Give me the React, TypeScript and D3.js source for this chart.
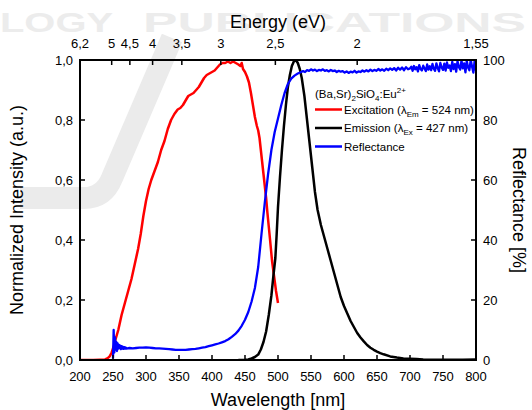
import React from "react";
import * as d3 from "d3";

const W = 532;
const H = 410;

// axis ticks
const wavelengthTicks = [200, 250, 300, 350, 400, 450, 500, 550, 600, 650, 700, 750, 800];
const intensityTicks = [0, 0.2, 0.4, 0.6, 0.8, 1.0];
const reflectanceTicks = [0, 20, 40, 60, 80, 100];
const energyTicks = [6.2, 5, 4.5, 4, 3.5, 3, 2.5, 2, 1.55];
const energyLabels = ["6,2", "5", "4,5", "4", "3,5", "3", "2,5", "2", "1,55"];

// Excitation (lambda_Em = 524 nm): [wavelength nm, normalized intensity]
const excitation: [number, number][] = [
  [200, 0], [210, 0], [220, 0], [230, 0.001], [238, 0.002], [242, 0.006], [245, 0.012], [248, 0.025],
  [251, 0.045], [254, 0.07], [258, 0.1], [263, 0.15], [268, 0.19], [273, 0.23], [278, 0.27],
  [283, 0.32], [288, 0.37], [292, 0.42], [296, 0.48], [300, 0.53], [304, 0.57], [308, 0.6],
  [313, 0.63], [318, 0.66], [323, 0.7], [328, 0.73], [333, 0.77], [338, 0.8], [343, 0.82],
  [348, 0.835], [352, 0.84], [356, 0.85], [360, 0.865], [364, 0.88], [368, 0.885], [372, 0.89],
  [376, 0.9], [380, 0.91], [384, 0.925], [388, 0.94], [392, 0.95], [396, 0.955], [400, 0.96],
  [404, 0.965], [408, 0.975], [412, 0.985], [416, 0.99], [420, 0.99], [424, 0.995], [428, 0.99],
  [432, 0.995], [436, 0.99], [440, 0.985], [443, 0.98], [445, 0.99], [447, 0.97], [450, 0.96],
  [453, 0.945], [456, 0.925], [459, 0.89], [462, 0.85], [465, 0.81], [468, 0.78], [470, 0.765],
  [472, 0.74], [474, 0.7], [476, 0.66], [478, 0.62], [480, 0.58], [482, 0.54], [484, 0.49],
  [486, 0.445], [488, 0.4], [491, 0.33], [494, 0.28], [497, 0.23], [500, 0.19],
];

// Emission (lambda_Ex = 427 nm)
const emission: [number, number][] = [
  [440, 0], [450, 0.001], [455, 0.002], [460, 0.005], [465, 0.01], [470, 0.018], [474, 0.035],
  [478, 0.06], [482, 0.095], [486, 0.15], [490, 0.215], [493, 0.28], [496, 0.34], [498, 0.42],
  [500, 0.51], [503, 0.61], [506, 0.7], [509, 0.78], [512, 0.85], [515, 0.91], [518, 0.95],
  [521, 0.98], [524, 0.995], [527, 1.0], [530, 0.99], [533, 0.97], [536, 0.94], [540, 0.88],
  [544, 0.8], [548, 0.72], [552, 0.64], [556, 0.56], [560, 0.5], [565, 0.45], [570, 0.41],
  [575, 0.37], [580, 0.33], [585, 0.29], [590, 0.25], [595, 0.21], [600, 0.18], [605, 0.155],
  [610, 0.13], [615, 0.11], [620, 0.09], [625, 0.075], [630, 0.062], [635, 0.05], [640, 0.041],
  [645, 0.034], [650, 0.028], [655, 0.023], [660, 0.019], [670, 0.012], [680, 0.008], [690, 0.005],
  [700, 0.004], [710, 0.003], [720, 0.002], [740, 0.001], [760, 0.001], [780, 0.001], [800, 0.002],
];

// Reflectance [%], measured in segments
const reflLowStart = 250;
const reflLowStep = 1;
const reflLow = [0.5, 10, 2.5, 7.5, 3.5, 6, 3, 5.5, 3.8, 5, 4, 4.8, 3.6, 4.6, 3.8, 4.4, 3.7, 4.3, 3.8, 4.2, 3.8];

const reflMid: [number, number][] = [
  [275, 4.0], [280, 3.9], [285, 4.0], [290, 4.1], [295, 4.1], [300, 4.2], [305, 4.1], [310, 4.0],
  [315, 3.9], [320, 3.9], [325, 3.8], [330, 3.7], [335, 3.6], [340, 3.5], [345, 3.4], [350, 3.4],
  [355, 3.4], [360, 3.4], [365, 3.5], [370, 3.6], [375, 3.7], [380, 3.9], [385, 4.1], [390, 4.3],
  [395, 4.6], [400, 4.9], [405, 5.2], [410, 5.5], [415, 5.9], [420, 6.3], [425, 6.9], [430, 7.7],
  [435, 8.6], [440, 9.8], [445, 11.4], [450, 13.4], [455, 16], [460, 19.5], [465, 24], [470, 31],
  [475, 42], [480, 52.5], [485, 62], [490, 70], [495, 76], [500, 80.5], [505, 85], [510, 89],
  [515, 92], [520, 93.8], [525, 94.8], [530, 95.5], [535, 96],
];

const reflHighStart = 538;
const reflHighStep = 3;
const reflHigh = [
  96.3, 96.0, 96.6, 96.4, 96.9, 96.5, 96.8, 96.3, 96.7, 96.5,
  96.9, 96.4, 96.6, 96.2, 96.7, 96.3, 96.5, 96.0, 96.4, 96.1,
  96.3, 95.8, 96.2, 95.7, 96.1, 95.9, 96.4, 95.8, 96.2, 96.0,
  96.5, 96.1, 96.6, 96.2, 96.8, 96.3, 96.7, 96.4, 97.0, 96.5,
  96.9, 96.4, 97.1, 96.6, 97.2, 96.7, 97.3, 96.5, 97.4, 96.8,
  97.5, 96.6, 97.6, 96.9, 97.2,
];

const reflTailStart = 702;
const reflTailStep = 2;
const reflTail = [
  97.8, 96.4, 98.0, 96.9, 97.6, 96.2, 98.3, 97.0, 96.5, 98.1,
  97.2, 96.3, 98.5, 96.8, 97.9, 96.6, 98.7, 97.1, 96.4, 98.9,
  97.3, 96.2, 99.0, 97.5, 96.7, 98.8, 96.5, 99.2, 97.4, 98.2,
  96.3, 99.4, 97.0, 98.6, 96.1, 99.6, 97.7, 96.8, 99.8, 97.2,
  98.9, 95.9, 99.7, 97.5, 96.6, 100, 97.8, 95.8, 99.9, 96.5,
];

const reflectance: [number, number][] = [
  ...reflLow.map((v, i) => [reflLowStart + i * reflLowStep, v] as [number, number]),
  ...reflMid,
  ...reflHigh.map((v, i) => [reflHighStart + i * reflHighStep, v] as [number, number]),
  ...reflTail.map((v, i) => [reflTailStart + i * reflTailStep, v] as [number, number]),
];

const FONT = "'Liberation Sans', Arial, Helvetica, sans-serif";

export default function App() {
  const x = d3.scaleLinear().domain([200, 800]).range([80, 476]);
  const y = d3.scaleLinear().domain([0, 1]).range([360, 60]);
  const yR = d3.scaleLinear().domain([0, 100]).range([360, 60]);

  const [x0, x1] = x.range();
  const [yb, yt] = y.range();

  const lineI = d3.line<[number, number]>().x((d) => x(d[0])).y((d) => y(d[1]));
  const lineR = d3.line<[number, number]>().x((d) => x(d[0])).y((d) => yR(d[1]));

  const fmtI = (v: number) => d3.format(".1f")(v).replace(".", ",");
  const tick = 5;

  return (
    <svg
      width={W}
      height={H}
      style={{ position: "absolute", left: 0, top: 0, background: "#fff" }}
      fontFamily={FONT}
    >
      <defs>
        <clipPath id="plot">
          <rect x={x0} y={yt - 1} width={x1 - x0} height={yb - yt + 1} />
        </clipPath>
      </defs>
      <rect x={0} y={0} width={W} height={H} fill="#fff" />

      {/* watermark */}
      <g fill="#ececec" fontWeight="bold" fontSize={28}>
        <text x={0} y={32} textLength={113} lengthAdjust="spacingAndGlyphs">LOGY</text>
        <text x={143} y={32} textLength={383} lengthAdjust="spacingAndGlyphs">PUBLICATIONS</text>
      </g>
      <path
        d="M 172 38 L 112 178 Q 104 198 84 198 L 20 198"
        fill="none"
        stroke="#ebebeb"
        strokeWidth={22}
      />

      {/* data */}
      <g clipPath="url(#plot)" fill="none" strokeLinejoin="round">
        <path d={lineI(excitation) || ""} stroke="#ff0000" strokeWidth={2.5} />
        <path d={lineI(emission) || ""} stroke="#000" strokeWidth={2.5} />
        <path d={lineR(reflectance) || ""} stroke="#0000ff" strokeWidth={2.3} />
      </g>

      {/* frame */}
      <rect x={x0} y={yt} width={x1 - x0} height={yb - yt} fill="none" stroke="#000" strokeWidth={2} />

      {/* bottom axis */}
      <g fontSize={13} textAnchor="middle" fill="#000">
        {wavelengthTicks.map((t) => (
          <g key={"b" + t}>
            <line x1={x(t)} x2={x(t)} y1={yb} y2={yb - tick} stroke="#000" strokeWidth={1.5} />
            <text x={x(t)} y={yb + 21}>{t}</text>
          </g>
        ))}
      </g>

      {/* top axis (energy) */}
      <g fontSize={13} textAnchor="middle" fill="#000">
        {energyTicks.map((e, i) => {
          const px = x(1240 / e);
          return (
            <g key={"t" + e}>
              <line x1={px} x2={px} y1={yt} y2={yt + tick} stroke="#000" strokeWidth={1.5} />
              <text x={px} y={yt - 12}>{energyLabels[i]}</text>
            </g>
          );
        })}
      </g>

      {/* left axis */}
      <g fontSize={13} textAnchor="end" fill="#000">
        {intensityTicks.map((t) => (
          <g key={"l" + t}>
            <line x1={x0} x2={x0 + tick} y1={y(t)} y2={y(t)} stroke="#000" strokeWidth={1.5} />
            <text x={x0 - 7} y={y(t) + 4.5}>{fmtI(t)}</text>
          </g>
        ))}
      </g>

      {/* right axis */}
      <g fontSize={13} textAnchor="start" fill="#000">
        {reflectanceTicks.map((t) => (
          <g key={"r" + t}>
            <line x1={x1} x2={x1 - tick} y1={yR(t)} y2={yR(t)} stroke="#000" strokeWidth={1.5} />
            <text x={x1 + 7} y={yR(t) + 4.5}>{t}</text>
          </g>
        ))}
      </g>

      {/* axis titles */}
      <g fontSize={18} fill="#000" textAnchor="middle">
        <text x={(x0 + x1) / 2} y={406}>Wavelength [nm]</text>
        <text x={(x0 + x1) / 2} y={28}>Energy (eV)</text>
        <text transform={`translate(23, ${(yt + yb) / 2}) rotate(-90)`}>Normalized Intensity (a.u.)</text>
        <text transform={`translate(513, ${(yt + yb) / 2}) rotate(90)`}>Reflectance [%]</text>
      </g>

      {/* legend */}
      <g fontSize={11.5} fill="#000">
        <text x={315} y={98}>
          (Ba,Sr)
          <tspan fontSize={8} dy={3}>2</tspan>
          <tspan dy={-3}>SiO</tspan>
          <tspan fontSize={8} dy={3}>4</tspan>
          <tspan dy={-3}>:Eu</tspan>
          <tspan fontSize={8} dy={-5}>2+</tspan>
        </text>
        <line x1={315} x2={342} y1={109.5} y2={109.5} stroke="#ff0000" strokeWidth={2.5} />
        <text x={344} y={113.5}>
          Excitation (λ
          <tspan fontSize={8} dy={3}>Em</tspan>
          <tspan dy={-3}> = 524 nm)</tspan>
        </text>
        <line x1={315} x2={342} y1={128} y2={128} stroke="#000" strokeWidth={2.5} />
        <text x={344} y={132}>
          Emission (λ
          <tspan fontSize={8} dy={3}>Ex</tspan>
          <tspan dy={-3}> = 427 nm)</tspan>
        </text>
        <line x1={315} x2={342} y1={146.5} y2={146.5} stroke="#0000ff" strokeWidth={2.5} />
        <text x={344} y={150.5}>Reflectance</text>
      </g>
    </svg>
  );
}
